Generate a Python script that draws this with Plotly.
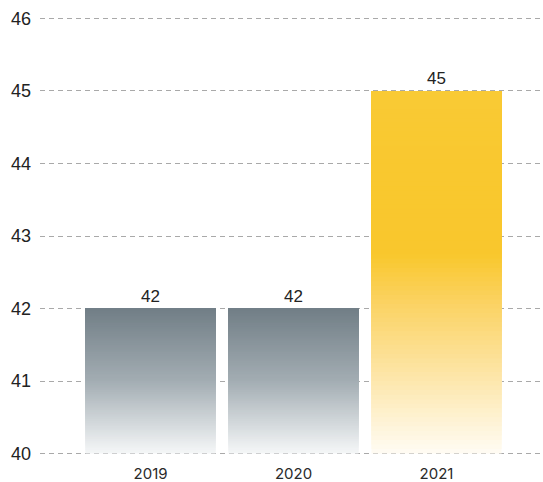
import numpy as np
import plotly.graph_objects as go
from plotly.colors import sample_colorscale

years = ["2019", "2020", "2021"]
values = [42, 42, 45]
y_ticks = [40, 41, 42, 43, 44, 45, 46]

# gradient stops (0 = bottom of bar, 1 = top)
grey_scale = [[0, "#f5f7f8"], [0.5, "#a3adb3"], [1, "#717e86"]]
gold_scale = [[0, "#fffcf4"], [0.2, "#fde7ad"], [0.4, "#fbd468"],
              [0.55, "#f9c72d"], [0.8, "#f9c82f"], [1, "#f9ca35"]]
scales = [grey_scale, grey_scale, gold_scale]

base = 40
n = 80
fig = go.Figure()
for k in range(n):
    t = k / n
    bases = [base + t * (v - base) for v in values]
    cols = [sample_colorscale(s, [t + 0.5 / n])[0] for s in scales]
    last = k == n - 1
    fig.add_trace(go.Bar(
        x=years, y=[v - b for v, b in zip(values, bases)], base=bases,
        marker=dict(color=cols, line=dict(width=0)),
        text=[str(v) for v in values] if last else None,
        textposition="outside", cliponaxis=False,
        textfont=dict(family="Liberation Sans, Arial, sans-serif", size=17, color="#222222"),
        hoverinfo="skip", showlegend=False,
    ))

fig.update_layout(
    width=543, height=482,
    margin=dict(l=40, r=0, t=16.5, b=26.5, autoexpand=False),
    barmode="overlay", bargap=0.09,
    plot_bgcolor="white", paper_bgcolor="white",
    font=dict(family="Liberation Sans, Arial, sans-serif", size=17, color="#222222"),
)
fig.update_xaxes(type="category", range=[-0.773, 2.745], showgrid=False,
                 ticks="", showline=False, automargin=False, ticklabelstandoff=8,
                 tickfont=dict(family="Inter, sans-serif", size=15, color="#2a2a2a"))
fig.update_yaxes(range=[39.98, 46.02], tickvals=y_ticks, showgrid=True,
                 gridcolor="#a9a9a9", griddash="5px,4px", gridwidth=1,
                 zeroline=False, showline=False, ticklabelstandoff=8,
                 automargin=False, tickfont=dict(size=18))

# page body has an 8px default margin; drop it so the figure sits at 0,0
fig.write_html("out.html", config={"displayModeBar": False},
               post_script="document.body.style.margin='0';")
